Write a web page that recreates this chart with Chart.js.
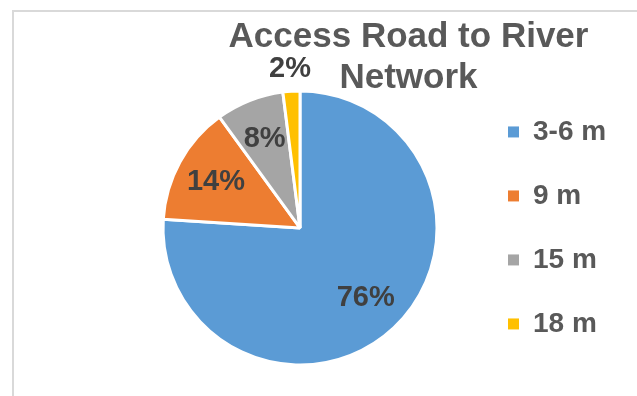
<!DOCTYPE html>
<html>
<head>
<meta charset="utf-8">
<title>Access Road to River Network</title>
<script src="https://cdn.jsdelivr.net/npm/chart.js@4.4.1/dist/chart.umd.min.js"></script>
<style>
  body { margin: 0; background: #fff; overflow: hidden; }
  #frame { position: absolute; left: 12px; top: 10px; width: 700px; height: 450px; border: 2px solid #d9d9d9; }
  #holder { position: absolute; left: 0; top: 0; width: 637px; height: 396px; }
</style>
</head>
<body>
<div id="frame"></div>
<div id="holder"><canvas id="myChart"></canvas></div>
<script>
  // road widths and their share of the network (%)
  const labels = ['3-6 m', '9 m', '15 m', '18 m'];
  const shares = [76, 14, 8, 2];
  const colors = ['#5B9BD5', '#ED7D31', '#A5A5A5', '#FFC000'];

  const FONT = '"Liberation Sans", Arial, sans-serif';

  // percentage labels inside the slices, thin slices get theirs outside the rim
  const pctLabels = {
    id: 'pctLabels',
    afterDatasetsDraw(chart) {
      const ctx = chart.ctx;
      const meta = chart.getDatasetMeta(0);
      const values = chart.data.datasets[0].data;
      const total = values.reduce((a, b) => a + b, 0);
      ctx.save();
      ctx.font = 'bold 29px ' + FONT;
      ctx.fillStyle = '#404040';
      ctx.textAlign = 'center';
      ctx.textBaseline = 'middle';
      meta.data.forEach((arc, i) => {
        const p = arc.getProps(['x', 'y', 'startAngle', 'endAngle', 'outerRadius'], true);
        const mid = (p.startAngle + p.endAngle) / 2;
        const pct = Math.round(values[i] / total * 100);
        const r = pct < 5 ? p.outerRadius + 22 : p.outerRadius * 0.7;
        ctx.fillText(pct + '%', p.x + Math.cos(mid) * r, p.y + Math.sin(mid) * r);
      });
      ctx.restore();
    }
  };

  // keep the legend column wide so the title centres over the whole frame
  const legendWidth = {
    id: 'legendWidth',
    beforeLayout(chart) {
      const legend = chart.legend;
      if (!legend || legend.widePatched) return;
      const fit = legend.fit;
      legend.fit = function () {
        fit.call(this);
        this.width = 217;
      };
      legend.widePatched = true;
    }
  };

  //Data
  const data = {
    labels: labels,
    datasets: [{
      data: shares,
      backgroundColor: colors,
      borderColor: '#ffffff',
      borderWidth: 3,
      radius: 137
    }]
  };

  //config
  const config = {
    type: 'pie',
    data: data,
    plugins: [pctLabels, legendWidth],
    options: {
      responsive: true,
      maintainAspectRatio: false,
      animation: false,
      layout: {
        padding: { top: 0, left: 128, right: -52, bottom: 15 }
      },
      plugins: {
        title: {
          display: true,
          text: ['Access Road to River', 'Network'],
          color: '#595959',
          font: { family: FONT, size: 35, weight: 'bold', lineHeight: 1.17 },
          // the pie and legend run up under the second title line
          padding: { top: 17, bottom: -24 }
        },
        legend: {
          position: 'right',
          fullSize: false,
          labels: {
            color: '#595959',
            font: { family: FONT, size: 28, weight: 'bold' },
            boxWidth: 11,
            boxHeight: 11,
            padding: 36,
            generateLabels(chart) {
              const base = Chart.overrides.pie.plugins.legend.labels.generateLabels(chart);
              return base.map(item => Object.assign(item, { lineWidth: 0 }));
            }
          }
        },
        tooltip: { enabled: false }
      }
    }
  };

  //View
  const myChart = new Chart(
    document.getElementById('myChart'),
    config
  );
</script>
</body>
</html>
